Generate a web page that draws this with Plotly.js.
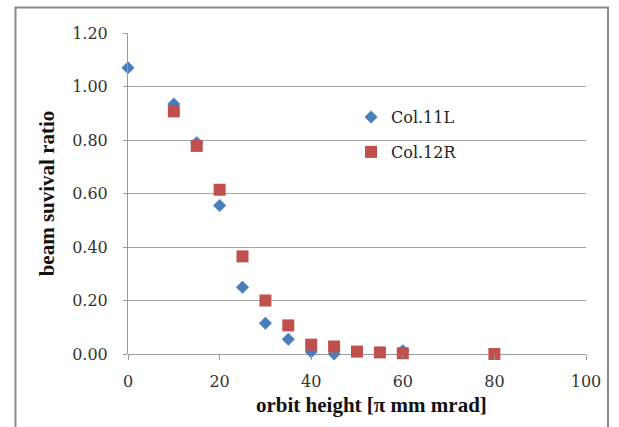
<!DOCTYPE html>
<html>
<head>
<meta charset="utf-8">
<script src="https://cdn.plot.ly/plotly-3.0.1.min.js"></script>
<style>
  html, body { margin: 0; padding: 0; background: #ffffff; }
  #chart { width: 619px; height: 427px; }
</style>
</head>
<body>
<div id="chart"></div>
<script>
// Data
const seriesNames = ["Col.11L", "Col.12R"];
const col11L_x = [0, 10, 15, 20, 25, 30, 35, 40, 45, 60];
const col11L_y = [1.07, 0.935, 0.79, 0.555, 0.25, 0.115, 0.055, 0.008, 0.0, 0.012];
const col12R_x = [10, 15, 20, 25, 30, 35, 40, 45, 50, 55, 60, 80];
const col12R_y = [0.907, 0.778, 0.614, 0.365, 0.20, 0.107, 0.035, 0.028, 0.009, 0.006, 0.003, 0.0];
const xTickVals = [0, 20, 40, 60, 80, 100];
const yTickVals = [0, 0.2, 0.4, 0.6, 0.8, 1.0, 1.2];
const yTickText = ["0.00", "0.20", "0.40", "0.60", "0.80", "1.00", "1.20"];
const xTitle = "orbit height [π mm mrad]";
const yTitle = "beam suvival ratio";

const serif = "'DejaVu Serif', 'Liberation Serif', serif";
const boldSerif = "'Liberation Serif', 'Times New Roman', serif";

const traces = [
  {
    type: "scatter", mode: "markers", name: seriesNames[0],
    x: col11L_x, y: col11L_y, cliponaxis: false,
    marker: { symbol: "diamond", size: 10, color: "#4a7ebb", line: { width: 0 } },
    legend: "legend"
  },
  {
    type: "scatter", mode: "markers", name: seriesNames[1],
    x: col12R_x, y: col12R_y, cliponaxis: false,
    marker: { symbol: "square", size: 12, color: "#c0504d", line: { width: 0 } },
    legend: "legend2"
  }
];

const legendCommon = {
  xanchor: "left", yanchor: "middle",
  bgcolor: "rgba(0,0,0,0)", borderwidth: 0,
  font: { family: serif, size: 16, color: "#222" },
  itemwidth: 30
};

const layout = {
  width: 619, height: 427,
  margin: { l: 128, r: 33, t: 33, b: 73, pad: 0 },
  paper_bgcolor: "#ffffff", plot_bgcolor: "#ffffff",
  showlegend: true,
  legend: Object.assign({}, legendCommon, { x: 0.487, y: (354 - 117) / 321 }),
  legend2: Object.assign({}, legendCommon, { x: 0.487, y: (354 - 152) / 321 }),
  xaxis: {
    range: [0, 100], tickvals: xTickVals, ticktext: xTickVals.map(String),
    showgrid: false, zeroline: false,
    showline: false,
    ticks: "outside", ticklen: 5, tickcolor: "#9a9a9a", tickwidth: 1,
    ticklabelstandoff: 8,
    tickfont: { family: serif, size: 16, color: "#333" },
    automargin: false
  },
  yaxis: {
    range: [0, 1.2], tickvals: yTickVals, ticktext: yTickText,
    showgrid: true, gridcolor: "#a6a6a6", gridwidth: 1,
    zeroline: true, zerolinecolor: "#9a9a9a", zerolinewidth: 1,
    showline: true, linecolor: "#9a9a9a", linewidth: 1,
    ticks: "outside", ticklen: 4, tickcolor: "#9a9a9a", tickwidth: 1,
    ticklabelstandoff: 12,
    tickfont: { family: serif, size: 16, color: "#333" },
    title: { text: yTitle, font: { family: boldSerif, size: 21, color: "#111", weight: "bold" }, standoff: 11 },
    automargin: false
  },
  annotations: [
    {
      text: xTitle, xref: "paper", yref: "paper",
      x: (371 - 128) / 458, y: (354 - 405) / 321,
      xanchor: "center", yanchor: "middle", showarrow: false,
      font: { family: boldSerif, size: 21, color: "#111", weight: "bold" }
    }
  ],
  shapes: [
    {
      type: "rect", xref: "paper", yref: "paper",
      x0: (15.5 - 128) / 458, x1: (608 - 128) / 458,
      y0: (354 - 445) / 321, y1: (354 - 7.5) / 321,
      line: { color: "#8a8a8a", width: 2 }, fillcolor: "rgba(0,0,0,0)", layer: "below"
    },
    {
      type: "line", xref: "paper", yref: "y",
      x0: 1, x1: 1, y0: 0, y1: -0.018,
      line: { color: "#9a9a9a", width: 1 }
    }
  ]
};

Plotly.newPlot("chart", traces, layout, { staticPlot: true, displayModeBar: false });
</script>
</body>
</html>
